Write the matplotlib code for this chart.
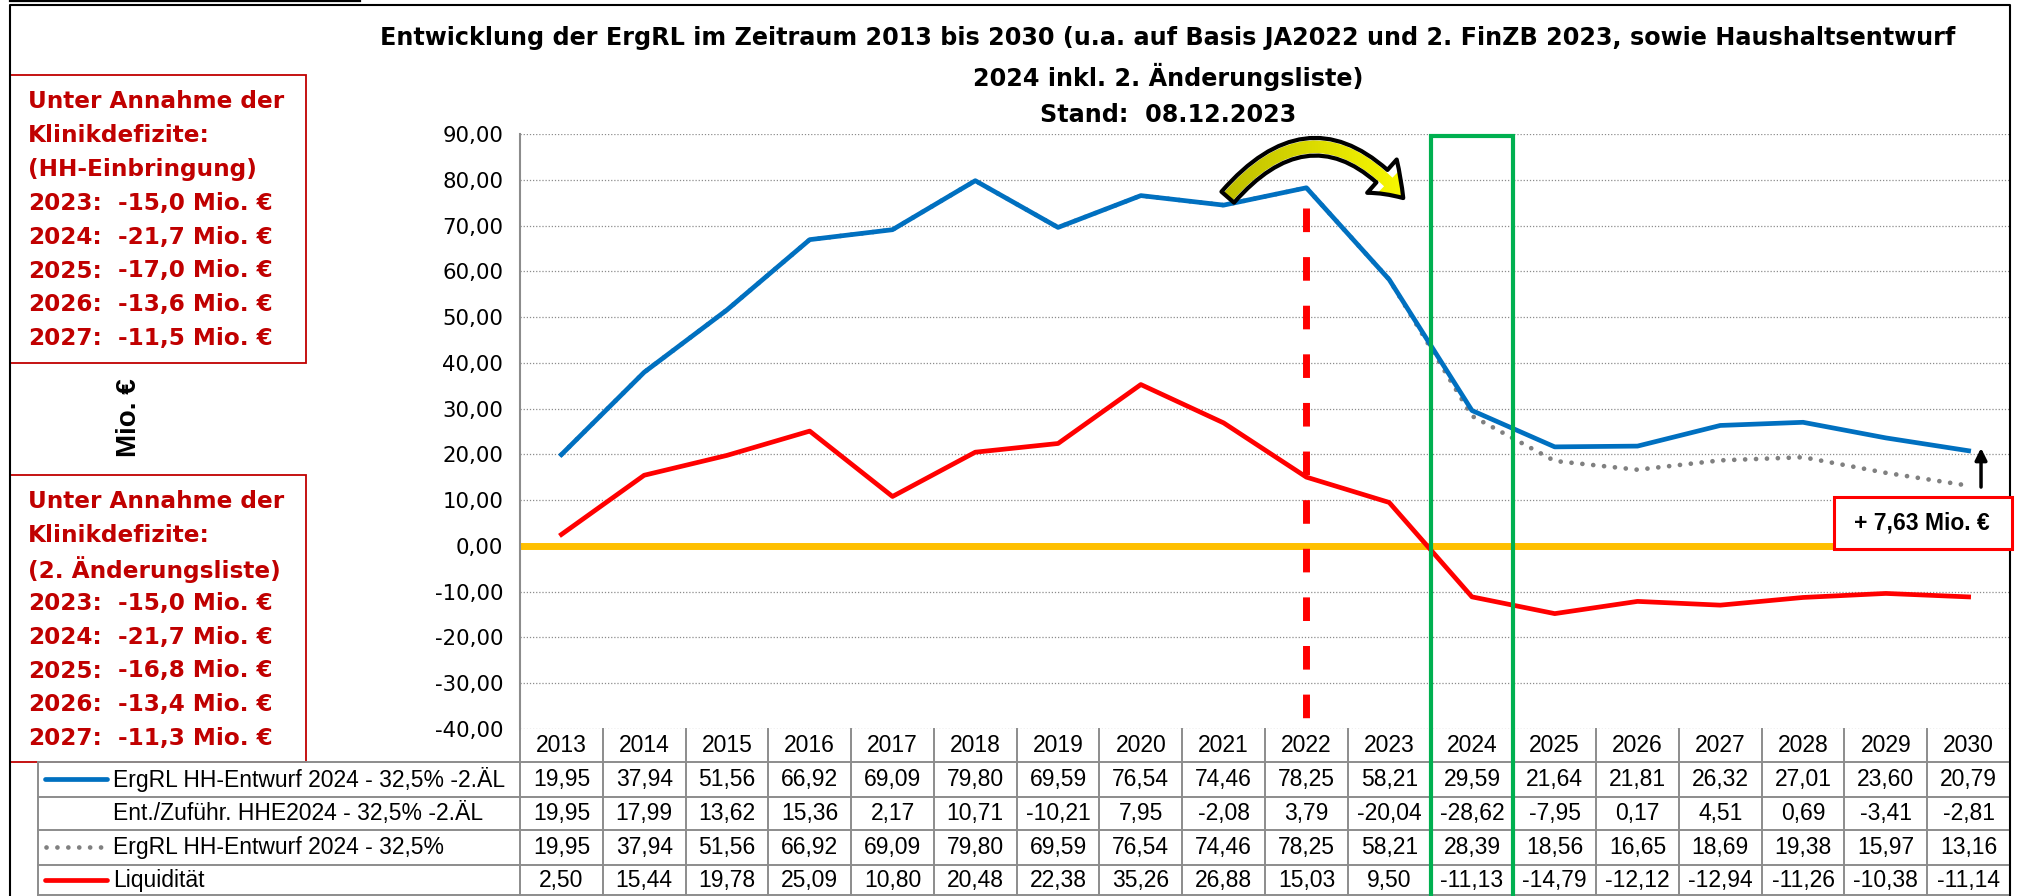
import matplotlib
matplotlib.use("Agg")
import numpy as np
import matplotlib.pyplot as plt
from matplotlib.patches import Rectangle, FancyArrowPatch
from matplotlib.ticker import FuncFormatter, MultipleLocator
from matplotlib.colors import LinearSegmentedColormap

# ---------------- data ----------------
years = [2013, 2014, 2015, 2016, 2017, 2018, 2019, 2020, 2021,
         2022, 2023, 2024, 2025, 2026, 2027, 2028, 2029, 2030]
ergrl_2al = [19.95, 37.94, 51.56, 66.92, 69.09, 79.80, 69.59, 76.54, 74.46,
             78.25, 58.21, 29.59, 21.64, 21.81, 26.32, 27.01, 23.60, 20.79]
ent_zufuehr = [19.95, 17.99, 13.62, 15.36, 2.17, 10.71, -10.21, 7.95, -2.08,
               3.79, -20.04, -28.62, -7.95, 0.17, 4.51, 0.69, -3.41, -2.81]
ergrl_325 = [19.95, 37.94, 51.56, 66.92, 69.09, 79.80, 69.59, 76.54, 74.46,
             78.25, 58.21, 28.39, 18.56, 16.65, 18.69, 19.38, 15.97, 13.16]
liquiditaet = [2.50, 15.44, 19.78, 25.09, 10.80, 20.48, 22.38, 35.26, 26.88,
               15.03, 9.50, -11.13, -14.79, -12.12, -12.94, -11.26, -10.38, -11.14]
row_labels = ["ErgRL HH-Entwurf 2024 - 32,5% -2.ÄL",
              "Ent./Zuführ. HHE2024 - 32,5% -2.ÄL",
              "ErgRL HH-Entwurf 2024 - 32,5%",
              "Liquidität"]
title_lines = ["Entwicklung der ErgRL im Zeitraum 2013 bis 2030 (u.a. auf Basis JA2022 und 2. FinZB 2023, sowie Haushaltsentwurf",
               "2024 inkl. 2. Änderungsliste)",
               "Stand:  08.12.2023"]
box1_head = ["Unter Annahme der", "Klinikdefizite:", "(HH-Einbringung)"]
box2_head = ["Unter Annahme der", "Klinikdefizite:", "(2. Änderungsliste)"]
deficit_years = [2023, 2024, 2025, 2026, 2027]
box1_values = [-15.0, -21.7, -17.0, -13.6, -11.5]
box2_values = [-15.0, -21.7, -16.8, -13.4, -11.3]
y_label = "Mio. €"
y_min, y_max, y_step = -40, 90, 10
marker_year = 2022      # red dashed line
marker_top = 73.8
highlight_year = 2024   # green frame

# ---------------- layout (pixels) ----------------
W, H = 2022, 896
X0, X1 = 520, 2010
YT, YB = 134, 729
COLW = (X1 - X0) / len(years)

def de(v, n=2):
    return f"{v:.{n}f}".replace(".", ",")

fig = plt.figure(figsize=(W / 100, H / 100), dpi=100)
fig.patch.set_facecolor("white")

BLUE = "#0070C0"
RED = "#FF0000"
GRAY = "#808080"
GRID = "#8C8C8C"
DRED = "#C00000"
GREEN = "#00B050"

ax = fig.add_axes([X0 / W, 1 - YB / H, (X1 - X0) / W, (YB - YT) / H])
ax.set_xlim(-0.5, len(years) - 0.5)
ax.set_ylim(y_min, y_max)
ax.yaxis.set_major_locator(MultipleLocator(y_step))
ax.yaxis.set_major_formatter(FuncFormatter(lambda v, p: de(v)))
ax.tick_params(axis="y", length=0, pad=12, labelsize=15.3)
for lab in ax.get_yticklabels():
    lab.set_fontfamily("DejaVu Sans")
ax.set_xticks([])
for s in ["top", "right", "bottom"]:
    ax.spines[s].set_visible(False)
ax.spines["left"].set_color(GRID)
ax.spines["left"].set_linewidth(1.5)
ax.grid(axis="y", color=GRID, linestyle=(0, (1, 1.5)), linewidth=0.9)
ax.set_axisbelow(True)

idx = list(range(len(years)))
ax.axhline(0, color="#FFC000", lw=5, zorder=2)
ax.plot(idx, ergrl_325, color=GRAY, lw=3.4, linestyle=(0, (0.01, 2.3)),
        dash_capstyle="round", zorder=3)
ax.plot(idx, ergrl_2al, color=BLUE, lw=3.4, solid_joinstyle="round", zorder=4)
ax.plot(idx, liquiditaet, color=RED, lw=3.4, solid_joinstyle="round", zorder=4)

# red dashed marker
mi = years.index(marker_year)
ax.plot([mi, mi], [marker_top, y_min], color=RED, lw=5,
        linestyle=(0, (3.4, 3.6)), dash_capstyle="butt", zorder=5, clip_on=False)

# curved yellow arrow with gradient fill
arr = FancyArrowPatch((mi - 0.95, 76.2), (mi + 1.17, 76.0),
                      connectionstyle="arc3,rad=-0.58",
                      arrowstyle="simple,head_length=22,head_width=32,tail_width=12",
                      facecolor="none", edgecolor="black", lw=3.0,
                      shrinkA=0, shrinkB=0, zorder=7, clip_on=False)
ax.add_patch(arr)
grad_cmap = LinearSegmentedColormap.from_list("yg", ["#B4B400", "#FFFF00"])
im = ax.imshow(np.linspace(0, 1, 256).reshape(1, -1), extent=[mi - 1.4, mi + 1.4, 68, 90],
               aspect="auto", cmap=grad_cmap, zorder=6, interpolation="bilinear")
im.set_clip_path(arr)
ax.set_xlim(-0.5, len(years) - 0.5)
ax.set_ylim(y_min, y_max)

# black difference arrow
last = len(years) - 1
ax.annotate("", xy=(last + 0.15, ergrl_2al[-1] + 0.6), xytext=(last + 0.15, ergrl_325[-1] - 0.3),
            arrowprops=dict(arrowstyle="-|>,head_length=0.7,head_width=0.35",
                            color="black", lw=2.5, shrinkA=0, shrinkB=0),
            annotation_clip=False, zorder=6)

# ---------------- overlay (pixel coordinates) ----------------
ov = fig.add_axes([0, 0, 1, 1], zorder=5)
ov.set_xlim(0, W)
ov.set_ylim(H, 0)
ov.axis("off")
ov.patch.set_alpha(0)

# outer frame
ov.plot([10, 360], [1, 1], color="black", lw=1.6)
ov.plot([10, 10, X1, X1], [H + 5, 5, 5, H + 5], color="black", lw=1.5)

# title
for t, y in zip(title_lines, [38, 77, 115]):
    ov.text(1168, y, t, ha="center", va="center", fontsize=17.2,
            fontweight="bold", family="DejaVu Sans", color="black")

# y-label
ov.text(129, 418, y_label, rotation=90, ha="center", va="center",
        fontsize=20, fontweight="bold", family="Liberation Sans", color="black")

# table
rows_y = [762, 797, 830, 865, 895]
hdr_c = (YB + rows_y[0]) / 2
tc = "#8C8C8C"
for y in rows_y:
    ov.plot([38, X1], [y, y], color=tc, lw=1.4)
ov.plot([38, 38], [rows_y[0], H], color=tc, lw=1.4)
for k in range(len(years) + 1):
    x = X0 + COLW * k
    ov.plot([x, x], [YB, H], color=tc if k < len(years) else "black", lw=1.4)
row_data = [ergrl_2al, ent_zufuehr, ergrl_325, liquiditaet]
row_c = [(rows_y[i] + rows_y[i + 1]) / 2 for i in range(4)]
for i, yr in enumerate(years):
    cx = X0 + COLW * (i + 0.5)
    ov.text(cx, hdr_c, str(yr), ha="center", va="center", fontsize=16.5,
            family="Liberation Sans")
    for r in range(4):
        ov.text(cx, row_c[r], de(row_data[r][i]), ha="center", va="center",
                fontsize=16.5, family="Liberation Sans")
for r in range(4):
    ov.text(113, row_c[r], row_labels[r], ha="left", va="center",
            fontsize=16.5, family="Liberation Sans")
ov.plot([45, 107], [row_c[0], row_c[0]], color=BLUE, lw=3.4, solid_capstyle="round")
ov.plot([46, 103], [row_c[2], row_c[2]], color=GRAY, lw=3.4,
        linestyle=(0, (0.01, 2.3)), dash_capstyle="round")
ov.plot([45, 107], [row_c[3], row_c[3]], color=RED, lw=3.4, solid_capstyle="round")

# green highlight frame
hi = years.index(highlight_year)
gx0, gx1 = X0 + COLW * hi, X0 + COLW * (hi + 1)
ov.plot([gx0, gx0, gx1, gx1], [H + 5, YT + 2, YT + 2, H + 5], color=GREEN, lw=3,
        solid_joinstyle="miter")

# deficit boxes
def box(y0, y1, head, vals):
    ov.add_patch(Rectangle((10, y0), 296, y1 - y0, fill=True, facecolor="white",
                           edgecolor=DRED, lw=1.3, zorder=1))
    for k in range(8):
        y = y0 + 27 + 33.8 * k
        if k < 3:
            ov.text(28, y, head[k], ha="left", va="center", fontsize=16.7,
                    fontweight="bold", family="DejaVu Sans", color=DRED, zorder=2)
        else:
            j = k - 3
            ov.text(28, y, f"{deficit_years[j]}:", ha="left", va="center", fontsize=16.7,
                    fontweight="bold", family="DejaVu Sans", color=DRED, zorder=2)
            ov.text(118, y, f"{de(vals[j], 1)} Mio. €", ha="left", va="center",
                    fontsize=16.7, fontweight="bold", family="DejaVu Sans",
                    color=DRED, zorder=2)

box(75, 363, box1_head, box1_values)
box(475, 762, box2_head, box2_values)

# difference label box
diff = ergrl_2al[-1] - ergrl_325[-1]
ov.add_patch(Rectangle((1834, 497), 178, 52, facecolor="white", edgecolor=RED,
                       lw=2.2, zorder=3))
ov.text(1922, 523, f"+ {de(diff)} Mio. €", ha="center", va="center",
        fontsize=16.5, fontweight="bold", family="Liberation Sans",
        color="black", zorder=4)

fig.savefig("out.png", dpi=100, facecolor="white")
